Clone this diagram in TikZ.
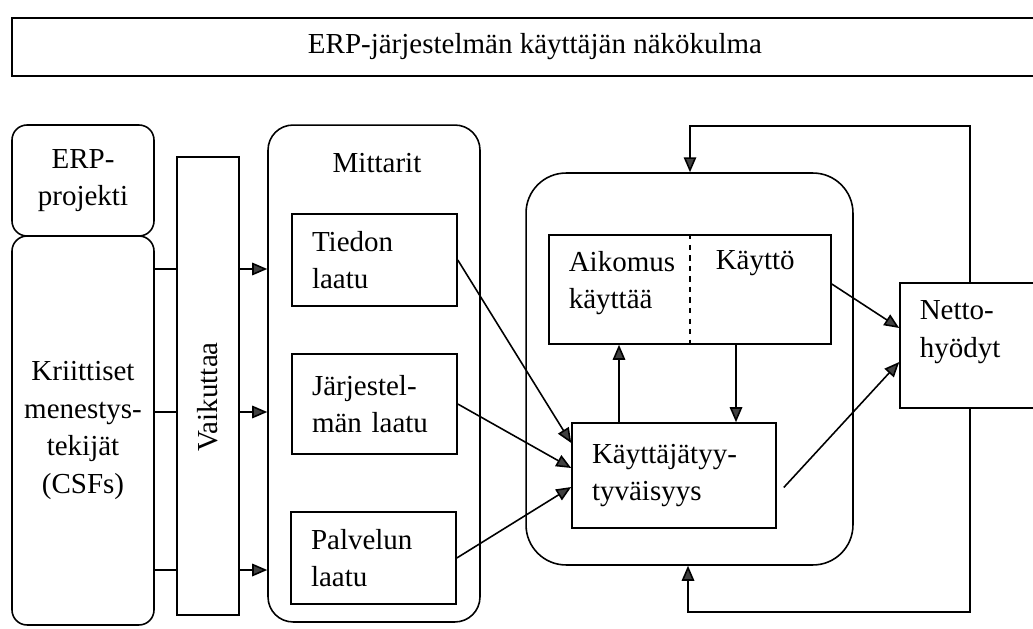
\documentclass[tikz,border=0pt]{standalone}
\usepackage{fontspec}
\setmainfont{Liberation Serif}
\usetikzlibrary{arrows.meta}

\begin{document}
\begin{tikzpicture}[x=0.02cm, y=-0.02cm, line width=0.9pt,
  font=\fontsize{16.5}{21.4}\selectfont,
  box/.style={draw, rectangle, inner sep=0pt},
  rbox/.style={box, rounded corners=#1},
  lbox/.style={box, align=left, inner xsep=0.4cm, text width=#1},
  arr/.style={-{Triangle[length=0.3cm, width=0.25cm, fill=black!75]}}]
  \useasboundingbox (0,0) rectangle (1033,628);
  \clip (0,0) rectangle (1033,628);

  \node[box, minimum width=20.92cm, minimum height=1.16cm] (title) at (535,47) {ERP-järjestelmän käyttäjän näkökulma};

  % left column
  \node[rbox=0.3cm, minimum width=2.84cm, minimum height=2.22cm, align=center] (erp) at (83,180.5) {ERP-\\projekti};
  \node[rbox=0.3cm, minimum width=2.84cm, minimum height=7.78cm, align=center] (csf) at (83,430.5) {Kriittiset\\menestys-\\tekijät\\(CSFs)};
  \node[box, minimum width=1.24cm, minimum height=9.16cm] (vaik) at (208,386) {};
  \node[rotate=90] (vaiktext) at (208,397) {Vaikuttaa};

  % mittarit
  \node[rbox=0.5cm, minimum width=4.24cm, minimum height=9.94cm] (mitt) at (374,373.5) {};
  \node (mitttext) at (377,163) {Mittarit};
  \node[lbox=2.5cm, minimum height=1.84cm] (tiedon) at (374.5,260) {Tiedon\\laatu};
  \node[lbox=2.5cm, minimum height=2.0cm] (jarj) at (374.5,404) {Järjestel-\\män laatu};
  \node[lbox=2.5cm, minimum height=1.84cm] (palv) at (373.5,558) {Palvelun\\laatu};

  % kayttaja
  \node[rbox=0.8cm, minimum width=6.54cm, minimum height=7.84cm] (user) at (689.5,369) {};
  \node[box, minimum width=5.64cm, minimum height=2.18cm] (aik) at (690,289.5) {};
  \draw[dashed] (aik.north) -- (aik.south);
  \node[anchor=west, align=left, inner sep=0pt] (aiktext) at (568,283) {Aikomus\\käyttää};
  \node[anchor=west, inner sep=0pt] (kayttotext) at (715,263) {Käyttö};
  \node[lbox=3.28cm, minimum height=2.1cm] (kt) at (674,475.5) {Käyttäjätyy-\\tyväisyys};

  \node[box, minimum width=2.8cm, minimum height=2.5cm] (netto) at (970,345.5) {};
  \node[anchor=west, align=left, inner sep=0pt] (nettotext) at (919,332) {Netto-\\hyödyt};

  \foreach \y in {269,412,570}{
    \draw (csf.east |- 0,\y) -- (vaik.west |- 0,\y);
    \draw[arr] (vaik.east |- 0,\y) -- (mitt.west |- 0,\y);
  }

  \draw[arr] (tiedon.east) -- (kt.west |- 0,443);
  \draw[arr] (jarj.east) -- (kt.west |- 0,468);
  \draw[arr] (palv.east) -- (kt.west |- 0,487);
  \draw[arr] (619,0 |- kt.north) -- (619,0 |- aik.south);
  \draw[arr] (736,0 |- aik.south) -- (736,0 |- kt.north);
  \draw[arr] (aik.east |- 0,284) -- (netto.west |- 0,328);
  \draw[arr] ([shift={(7,12)}]kt.east) -- (netto.west |- 0,362);

  \coordinate (fbtop) at (690,126);
  \coordinate (fbbot) at (688,612);
  \draw[arr] (netto.north) |- (fbtop) -- (fbtop |- user.north);
  \draw[arr] (netto.south) |- (fbbot) -- (fbbot |- user.south);
\end{tikzpicture}
\end{document}
